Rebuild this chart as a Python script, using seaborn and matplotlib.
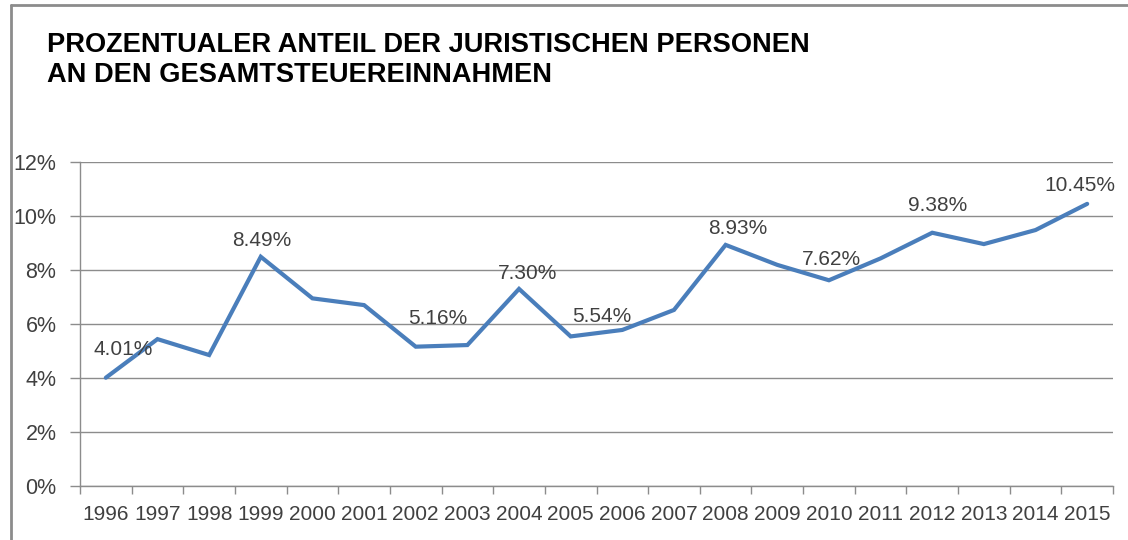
import seaborn as sns
import matplotlib.pyplot as plt
import matplotlib.ticker as mticker
from matplotlib.lines import Line2D
import pandas as pd

# Daten
jahre = [str(j) for j in range(1996, 2016)]
anteil = [4.01, 5.44, 4.85, 8.49, 6.95, 6.70, 5.16, 5.22, 7.30, 5.54,
          5.78, 6.52, 8.93, 8.19, 7.62, 8.43, 9.38, 8.96, 9.48, 10.45]
# Jahre mit Datenbeschriftung
beschriftet = ["1996", "1999", "2002", "2004", "2005", "2008", "2010", "2012", "2015"]
y_ticks = [0, 2, 4, 6, 8, 10, 12]
titel = "PROZENTUALER ANTEIL DER JURISTISCHEN PERSONEN\nAN DEN GESAMTSTEUEREINNAHMEN"

# Verschiebung der Beschriftungen in Pixeln (dx, dy)
label_offset = {"1996": (17, 23), "1999": (1, 11), "2002": (22, 23), "2004": (9, 10),
                "2005": (31, 14), "2008": (12, 11), "2010": (3, 15), "2012": (5, 22),
                "2015": (-7, 13)}

df = pd.DataFrame({"Jahr": jahre, "Anteil": anteil})

sns.set_theme(style="white")
plt.rcParams["font.family"] = ["Liberation Sans", "DejaVu Sans"]

grau = "#8c8c8c"
text_farbe = "#404040"

fig = plt.figure(figsize=(11.28, 5.4), dpi=100)
ax = fig.add_axes([80 / 1128, 0.1, (1113 - 80) / 1128, 0.6])

sns.lineplot(data=df, x="Jahr", y="Anteil", ax=ax, color="#4a7ebb", linewidth=3,
             sort=False, solid_joinstyle="miter")

ax.set_xlim(-0.5, len(jahre) - 0.5)
ax.set_ylim(0, 12)
ax.set_yticks(y_ticks)
ax.yaxis.set_major_formatter(mticker.FuncFormatter(lambda v, p: f"{v:.0f}%"))
ax.grid(axis="y", color=grau, linewidth=1)
ax.set_axisbelow(True)

# Kategorien: Beschriftung mittig, Striche zwischen den Jahren
ax.set_xticks(range(len(jahre)))
ax.set_xticklabels(jahre)
ax.xaxis.set_minor_locator(mticker.FixedLocator([i - 0.5 for i in range(len(jahre) + 1)]))
ax.tick_params(axis="x", which="major", length=0, pad=14, labelsize=15, labelcolor=text_farbe)
ax.tick_params(axis="x", which="minor", length=6, width=1, color=grau, direction="out", bottom=True)
ax.tick_params(axis="y", length=7, width=1, color=grau, direction="out", left=True,
               pad=10, labelsize=15.5, labelcolor=text_farbe)

for s in ["top", "right"]:
    ax.spines[s].set_visible(False)
for s in ["left", "bottom"]:
    ax.spines[s].set_color(grau)
    ax.spines[s].set_linewidth(1)

ax.set_xlabel("")
ax.set_ylabel("")

for j, v in zip(jahre, anteil):
    if j in beschriftet:
        dx, dy = label_offset[j]
        ax.annotate(f"{v:.2f}%", (jahre.index(j), v), xytext=(dx * 0.72, dy * 0.72),
                    textcoords="offset points", ha="center", va="baseline",
                    fontsize=15, color=text_farbe)

fig.text(47 / 1128, 1 - 32 / 540, titel, fontsize=19.6, fontweight="bold",
         color="black", va="top", ha="left", linespacing=1.22)

# Rahmen links und oben
fig.add_artist(Line2D([11 / 1128, 11 / 1128], [0, 1 - 5 / 540], transform=fig.transFigure,
                      color="#8c8c8c", linewidth=2))
fig.add_artist(Line2D([11 / 1128, 1], [1 - 5 / 540, 1 - 5 / 540], transform=fig.transFigure,
                      color="#8c8c8c", linewidth=2))

fig.savefig("out.png", dpi=100)
